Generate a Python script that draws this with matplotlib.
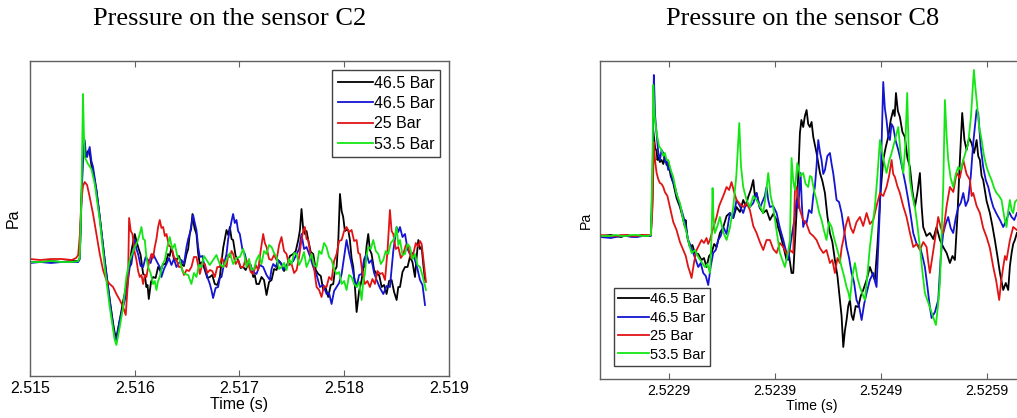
import matplotlib
matplotlib.use('Agg')
import matplotlib.pyplot as plt
import numpy as np

plt.rcParams['font.family'] = ['Liberation Sans', 'DejaVu Sans']

# ---------------- data ----------------
series_labels = ['46.5 Bar', '46.5 Bar', '25 Bar', '53.5 Bar']
series_colors = ['#000000', '#1414d2', '#e01414', '#14e614']

# Sensor C2 (time in ms after 2.515 s, pressure in arbitrary units)
c2_t0 = 2.515
c2_black_ms = [0, 0.1, 0.2, 0.3, 0.4, 0.46, 0.475, 0.49, 0.506, 0.522, 0.532, 0.554, 0.57, 0.586, 0.602, 0.634, 0.666, 0.713, 0.761, 0.793, 0.809, 0.825, 0.857, 0.889, 0.920, 0.936, 0.952, 0.968,
               1.0, 1.016, 1.032, 1.056, 1.08, 1.096, 1.111, 1.122, 1.134, 1.155, 1.175, 1.199, 1.223, 1.247, 1.271, 1.295, 1.318, 1.334, 1.350, 1.374, 1.398, 1.422, 1.446, 1.470, 1.494, 1.510, 1.525, 1.538, 1.551, 1.570, 1.589, 1.605, 1.621, 1.645, 1.669, 1.693, 1.717, 1.740, 1.764, 1.788, 1.812, 1.844, 1.876, 1.892, 1.908, 1.924, 1.939, 1.963, 1.987,
               2.011, 2.035, 2.059, 2.083, 2.107, 2.131, 2.146, 2.162, 2.186, 2.210, 2.234, 2.258, 2.282, 2.306, 2.330, 2.354, 2.378, 2.401, 2.425, 2.449, 2.481, 2.513, 2.537, 2.561, 2.577, 2.592, 2.608, 2.624, 2.640, 2.656, 2.680, 2.704, 2.728, 2.752, 2.776, 2.799, 2.823, 2.847, 2.871, 2.895, 2.911, 2.927, 2.943, 2.959, 2.975, 2.990,
               3.006, 3.022, 3.038, 3.054, 3.070, 3.086, 3.102, 3.118, 3.142, 3.166, 3.182, 3.197, 3.213, 3.229, 3.245, 3.261, 3.285, 3.309, 3.333, 3.357, 3.380, 3.404, 3.428, 3.452, 3.476, 3.500, 3.516, 3.532, 3.556, 3.580, 3.604, 3.627, 3.651, 3.675, 3.691, 3.707, 3.723, 3.739, 3.755, 3.771]
c2_black_pa = [-1, -1, 0, -1, 0, 0, 3, 60, 110, 118, 104, 110, 108, 96, 90, 71, 44, 1, -39, -62, -72, -76, -59, -40, -25, -12, -4, 10,
               27, 20, 14, 6, -13, -14, -26, -24, -38, -21, -16, -17, -6, -10, -3, -3, 7, 5, 14, 2, 1, 5, -3, -5, 7, 12, 27, 32, 47, 33, 27, 8, -3, -1, -9, -17, -16, -14, -23, -24, -16, 13, 31, 26, 34, 22, 21, 5, 1,
               -7, -6, -9, -3, -4, -16, -14, -23, -23, -16, -19, -34, -21, -19, -8, -9, 0, -3, -10, -6, 5, 7, 10, 21, 31, 52, 32, 27, 30, 21, 9, 7, -9, -13, -15, -29, -27, -36, -24, -23, -9, -6, 20, 67, 50, 44,
               30, 31, 31, 21, 3, -6, -26, -51, -30, -19, -6, -6, 15, 27, 11, 7, -9, -13, -14, -26, -24, -33, -20, -19, -31, -39, -26, -26, -11, -6, -6, 4, -1, -16, 4, 21, 12, 14, -4, -19]

c2_blue_ms = [0, 0.1, 0.2, 0.3, 0.4, 0.46, 0.475, 0.49, 0.506, 0.522, 0.532, 0.545, 0.57, 0.586, 0.602, 0.634, 0.666, 0.713, 0.761, 0.793, 0.809, 0.825, 0.857, 0.889, 0.920, 0.952, 0.968,
              1.0, 1.016, 1.032, 1.056, 1.080, 1.104, 1.127, 1.151, 1.175, 1.199, 1.223, 1.239, 1.255, 1.279, 1.303, 1.327, 1.350, 1.374, 1.398, 1.422, 1.446, 1.470, 1.494, 1.510, 1.525, 1.541, 1.557, 1.573, 1.589, 1.605, 1.621, 1.645, 1.669, 1.693, 1.717, 1.732, 1.748, 1.772, 1.796, 1.812, 1.828, 1.852, 1.876, 1.892, 1.908, 1.924, 1.939, 1.955, 1.971, 1.987,
              2.003, 2.027, 2.051, 2.075, 2.099, 2.131, 2.162, 2.194, 2.226, 2.258, 2.290, 2.306, 2.322, 2.346, 2.369, 2.393, 2.417, 2.449, 2.481, 2.513, 2.545, 2.569, 2.592, 2.616, 2.640, 2.672, 2.704, 2.736, 2.768, 2.799, 2.831, 2.855, 2.879, 2.903, 2.927, 2.951, 2.975, 2.999,
              3.022, 3.046, 3.070, 3.094, 3.118, 3.142, 3.166, 3.190, 3.213, 3.237, 3.261, 3.285, 3.309, 3.341, 3.373, 3.404, 3.436, 3.468, 3.500, 3.516, 3.532, 3.556, 3.580, 3.604, 3.627, 3.651, 3.675, 3.699, 3.723, 3.747, 3.771]
c2_blue_pa = [-2, -1, -2, -1, -1, -1, 2, 55, 105, 121, 108, 104, 114, 100, 94, 71, 44, 1, -39, -65, -76, -79, -59, -46, -33, -6, -3,
              21, 12, 7, -5, -6, 4, 1, -2, 7, 2, -3, -6, -16, -8, -3, 3, -4, 2, -6, -2, 1, -3, 14, 22, 27, 36, 46, 38, 31, 14, 4, 5, -6, -16, -23, -29, -37, -27, -26, -17, -16, -3, 7, 22, 31, 40, 47, 38, 41, 30,
              27, 12, 7, -4, -3, -11, -13, -4, -6, -14, -19, -8, -3, -6, 1, -2, -9, -4, -3, 0, 7, 12, 27, 12, 14, 5, -6, -14, -26, -24, -33, -32, -43, -30, -26, -22, -13, 4,
              21, 8, -3, -16, -26, -14, -13, 2, 7, -2, 1, -12, -19, -27, -33, -25, -26, 10, 34, 29, 34, 24, 27, 12, 7, 8, 1, -8, -19, -24, -44]

c2_red_ms = [0, 0.1, 0.2, 0.3, 0.4, 0.44, 0.46, 0.475, 0.49, 0.506, 0.522, 0.545, 0.570, 0.602, 0.634, 0.666, 0.697, 0.729, 0.761, 0.793, 0.825, 0.857, 0.889, 0.914, 0.936,
             0.946, 0.962, 0.978, 0.997, 1.016, 1.032, 1.048, 1.064, 1.080, 1.096, 1.111, 1.135, 1.159, 1.175, 1.191, 1.207, 1.223, 1.239, 1.255, 1.271, 1.287, 1.303, 1.327, 1.350, 1.374, 1.398, 1.422, 1.446, 1.470, 1.494, 1.518, 1.541, 1.565, 1.589, 1.605, 1.621, 1.645, 1.669, 1.693, 1.717, 1.740, 1.764, 1.788, 1.812, 1.828, 1.844, 1.860, 1.876, 1.892, 1.908, 1.924, 1.939, 1.963, 1.987,
             2.011, 2.035, 2.059, 2.083, 2.107, 2.131, 2.155, 2.178, 2.202, 2.226, 2.242, 2.258, 2.282, 2.306, 2.330, 2.354, 2.378, 2.401, 2.425, 2.449, 2.473, 2.497, 2.521, 2.545, 2.569, 2.592, 2.608, 2.624, 2.640, 2.656, 2.680, 2.704, 2.720, 2.736, 2.760, 2.783, 2.807, 2.831, 2.855, 2.879, 2.903, 2.927, 2.951, 2.975, 2.999,
             3.022, 3.046, 3.070, 3.094, 3.118, 3.134, 3.150, 3.174, 3.197, 3.221, 3.245, 3.269, 3.293, 3.317, 3.341, 3.365, 3.389, 3.413, 3.436, 3.452, 3.468, 3.492, 3.516, 3.540, 3.564, 3.588, 3.611, 3.635, 3.659, 3.683, 3.707, 3.723, 3.739, 3.760, 3.780]
c2_red_pa = [2, 1, 2, 2, 1, 3, 6, 25, 60, 75, 79, 76, 64, 47, 27, 7, -9, -19, -23, -26, -33, -39, -46, -54, -19,
             43, 30, 27, 10, 1, -10, -16, -14, -23, -14, -16, -2, 7, 3, 14, 22, 34, 41, 33, 34, 25, 27, 15, 14, 4, 1, -6, -6, -14, -9, -10, -6, 4, 4, -4, -13, -3, -3, -12, -9, -10, -16, -6, -6, 3, 1, -4, -6, 6, 4, 10, 7, -3, 1,
             -6, -6, 2, -3, -11, -13, -4, -9, 10, 27, 18, 14, 2, 1, 6, 1, 16, 24, 10, 7, -4, -3, -12, -9, 4, 21, 30, 34, 22, 21, 5, 1, -14, -26, -29, -36, -25, -26, -16, -19, 0, 7, 20, 21, 30,
             34, 29, 31, 20, 21, 8, 7, -12, -23, -20, -26, -18, -23, -10, -13, -12, -19, 10, 51, 30, 27, 12, 14, 3, 7, 16, 14, 3, 7, 18, 14, 20, 17, -2, -21]

c2_green_ms = [0, 0.1, 0.2, 0.3, 0.4, 0.46, 0.475, 0.49, 0.506, 0.514, 0.522, 0.554, 0.586, 0.618, 0.666, 0.713, 0.761, 0.809, 0.825, 0.857, 0.889, 0.920, 0.952,
               1.0, 1.024, 1.048, 1.064, 1.080, 1.096, 1.111, 1.127, 1.151, 1.175, 1.191, 1.207, 1.223, 1.239, 1.263, 1.287, 1.311, 1.334, 1.358, 1.382, 1.406, 1.430, 1.454, 1.478, 1.510, 1.541, 1.565, 1.589, 1.613, 1.637, 1.661, 1.685, 1.716, 1.748, 1.780, 1.812, 1.844, 1.876, 1.908, 1.939, 1.971,
               2.003, 2.035, 2.067, 2.091, 2.115, 2.138, 2.162, 2.186, 2.210, 2.234, 2.258, 2.282, 2.306, 2.330, 2.354, 2.378, 2.401, 2.425, 2.449, 2.473, 2.497, 2.521, 2.545, 2.569, 2.592, 2.616, 2.640, 2.664, 2.688, 2.712, 2.736, 2.760, 2.783, 2.807, 2.831, 2.855, 2.879, 2.903, 2.927, 2.951, 2.975, 2.999,
               3.022, 3.046, 3.070, 3.094, 3.118, 3.142, 3.166, 3.182, 3.197, 3.213, 3.229, 3.253, 3.277, 3.301, 3.325, 3.349, 3.373, 3.396, 3.420, 3.444, 3.468, 3.484, 3.500, 3.516, 3.532, 3.556, 3.580, 3.604, 3.627, 3.651, 3.675, 3.699, 3.723, 3.751, 3.780]
c2_green_pa = [-1, -1, 0, -1, -1, 0, 3, 60, 167, 130, 104, 97, 92, 77, 41, -6, -46, -79, -84, -66, -46, -16, 1,
               14, 19, 27, 34, 22, 21, 4, -6, -12, -23, -20, -29, -20, -16, -4, 1, 14, 24, 12, 17, 5, 1, -10, -13, -14, -23, -12, -16, -4, -6, 5, 1, -4, 1, 6, -3, -6, 1, 8, -3, 3,
               4, 12, -6, 2, -9, -8, 1, 6, -3, 10, 7, 16, 14, 8, 4, -8, -6, -2, -9, 2, -3, 8, 7, -4, 1, 9, -6, 0, 7, -4, -6, 10, 7, 18, 14, 4, 1, -8, -13, -11, -23, -20,
               -29, -14, -16, -23, -26, -21, -39, -20, -13, 6, 14, 12, 21, 10, 7, -3, 1, 10, 7, 18, 21, 25, 34, 16, 21, 6, 7, 17, 14, 2, 7, -4, -6, -16, -29]

# Sensor C8 (time in ms after 2.5229 s, pressure in arbitrary units)
c8_t0 = 2.5229
c8_black_ms = [-0.648, -0.55, -0.5, -0.45, -0.4, -0.35, -0.3, -0.25, -0.2, -0.17, -0.154, -0.148, -0.142, -0.130, -0.116, -0.108, -0.101, -0.085, -0.069, -0.053, -0.038, -0.022, -0.006, 0.017, 0.041, 0.072, 0.104, 0.127, 0.151, 0.157, 0.175, 0.198, 0.222, 0.245, 0.277, 0.308, 0.331, 0.355, 0.379, 0.403, 0.427, 0.450, 0.481, 0.513, 0.544, 0.575, 0.607, 0.638, 0.670, 0.701, 0.725, 0.748, 0.772, 0.796, 0.811, 0.827, 0.858, 0.890, 0.921, 0.953, 0.984,
               1.016, 1.032, 1.047, 1.079, 1.110, 1.134, 1.157, 1.173, 1.189, 1.204, 1.220, 1.236, 1.250, 1.267, 1.283, 1.299, 1.314, 1.330, 1.346, 1.362, 1.393, 1.425, 1.448, 1.472, 1.495, 1.519, 1.542, 1.566, 1.590, 1.613, 1.629, 1.645, 1.660, 1.676, 1.692, 1.708, 1.723, 1.739, 1.762, 1.786, 1.810, 1.833, 1.865, 1.896, 1.920, 1.943, 1.967, 1.991,
               2.006, 2.022, 2.046, 2.069, 2.093, 2.116, 2.130, 2.142, 2.160, 2.179, 2.203, 2.226, 2.250, 2.274, 2.297, 2.321, 2.345, 2.368, 2.384, 2.399, 2.430, 2.462, 2.494, 2.525, 2.557, 2.588, 2.620, 2.651, 2.675, 2.698, 2.722, 2.745, 2.767, 2.788, 2.808, 2.832, 2.855, 2.879, 2.903, 2.918, 2.934, 2.950, 2.965, 2.997,
               3.028, 3.052, 3.075, 3.099, 3.123, 3.138, 3.154, 3.178, 3.201, 3.217, 3.233, 3.248, 3.264, 3.283]
c8_black_pa = [0, 1, 0, -1, 1, 0, 0, 1, 0, 1, 40, 106, 100, 88, 85, 76, 79, 74, 76, 72, 80, 71, 74, 60, 53, 38, 29, 20, 9, 16, -2, -11, -9, -17, -18, -24, -22, -31, -20, -17, -8, -11, 3, 9, 20, 23, 18, 29, 24, 36, 30, 39, 46, 56, 40, 43, 28, 23, 26, 16, 22,
               16, 8, 3, -10, -24, -20, -37, -37, -5, 23, 60, 103, 116, 109, 120, 126, 112, 109, 114, 99, 83, 63, 55, 43, 20, 3, -6, -24, -40, -64, -80, -111, -95, -84, -70, -64, -79, -84, -70, -71, -60, -54, -44, -31, -38, -44, -10, 36,
               56, 76, 89, 99, 116, 126, 120, 143, 125, 119, 104, 99, 78, 69, 45, 29, 44, 63, 30, 9, 0, 3, -3, 9, -4, -11, -17, -27, -20, -24, 20, 76, 123, 96, 86, 98, 93, 83, 96, 80, 76, 60, 56, 35,
               23, 10, -4, -20, -37, -45, -54, -47, -54, -30, -17, -8, -4, 3]

c8_blue_ms = [-0.648, -0.55, -0.5, -0.45, -0.4, -0.35, -0.3, -0.25, -0.2, -0.17, -0.154, -0.142, -0.130, -0.116, -0.101, -0.085, -0.069, -0.053, -0.038, -0.022, -0.006, 0.009, 0.033, 0.057, 0.088, 0.119, 0.151, 0.182, 0.206, 0.230, 0.254, 0.277, 0.300, 0.324, 0.348, 0.371, 0.395, 0.418, 0.442, 0.465, 0.489, 0.513, 0.544, 0.575, 0.607, 0.638, 0.670, 0.701, 0.733, 0.764, 0.796, 0.827, 0.858, 0.890, 0.905, 0.921, 0.937, 0.953, 0.984,
              1.016, 1.047, 1.079, 1.102, 1.126, 1.150, 1.173, 1.189, 1.204, 1.220, 1.242, 1.255, 1.267, 1.283, 1.299, 1.322, 1.346, 1.362, 1.377, 1.393, 1.409, 1.425, 1.440, 1.456, 1.472, 1.495, 1.519, 1.535, 1.550, 1.566, 1.582, 1.605, 1.629, 1.652, 1.676, 1.700, 1.723, 1.746, 1.770, 1.794, 1.818, 1.842, 1.865, 1.896, 1.928, 1.943, 1.959, 1.975, 1.991,
              2.006, 2.022, 2.037, 2.053, 2.069, 2.085, 2.100, 2.116, 2.140, 2.164, 2.188, 2.211, 2.235, 2.258, 2.282, 2.305, 2.337, 2.368, 2.392, 2.415, 2.438, 2.462, 2.478, 2.510, 2.541, 2.565, 2.588, 2.611, 2.635, 2.658, 2.682, 2.706, 2.730, 2.753, 2.777, 2.800, 2.824, 2.848, 2.871, 2.887, 2.903, 2.918, 2.941, 2.965, 2.989,
              3.013, 3.036, 3.060, 3.092, 3.123, 3.154, 3.185, 3.209, 3.233, 3.258, 3.283]
c8_blue_pa = [-1, -2, -1, 0, 0, -1, -1, 0, 0, 0, 60, 161, 120, 103, 84, 76, 86, 83, 74, 75, 66, 69, 56, 49, 36, 26, 14, -4, -10, -17, -24, -31, -27, -37, -40, -49, -30, -17, -14, -4, 0, 9, 2, 23, 18, 36, 30, 23, 34, 29, 33, 43, 28, 36, 40, 49, 36, 29, 30,
              23, 8, -4, -14, -24, -6, 9, 20, 36, 28, 63, 30, 9, 15, 13, 26, 23, 40, 49, 70, 96, 84, 76, 62, 66, 80, 83, 72, 63, 50, 36, 34, 23, 6, -11, -22, -37, -46, -64, -70, -84, -68, -57, -44, -37, -45, -51, -10, 29,
              90, 154, 128, 116, 100, 96, 112, 109, 95, 86, 75, 63, 50, 36, 20, 3, -8, -11, -20, -31, -50, -71, -82, -76, -64, -20, 3, 12, 19, 8, 3, 18, 29, 33, 43, 30, 36, 60, 93, 110, 126, 123, 90, 69, 56,
              49, 38, 29, 22, 16, 9, 16, 24, 19, 16, 23]

c8_red_ms = [-0.648, -0.55, -0.5, -0.45, -0.4, -0.35, -0.3, -0.25, -0.2, -0.17, -0.154, -0.142, -0.130, -0.116, -0.101, -0.085, -0.069, -0.053, -0.038, -0.014, 0.009, 0.041, 0.072, 0.104, 0.135, 0.159, 0.182, 0.198, 0.214, 0.238, 0.261, 0.285, 0.308, 0.331, 0.355, 0.371, 0.387, 0.418, 0.450, 0.474, 0.497, 0.520, 0.544, 0.568, 0.591, 0.615, 0.638, 0.670, 0.701, 0.733, 0.764, 0.796, 0.827, 0.858, 0.890, 0.921, 0.953, 0.984,
             1.016, 1.047, 1.079, 1.110, 1.142, 1.173, 1.189, 1.204, 1.236, 1.267, 1.299, 1.330, 1.362, 1.393, 1.425, 1.456, 1.487, 1.519, 1.542, 1.566, 1.590, 1.613, 1.629, 1.645, 1.668, 1.692, 1.716, 1.739, 1.770, 1.802, 1.833, 1.865, 1.896, 1.928, 1.959, 1.991,
             2.022, 2.053, 2.077, 2.101, 2.116, 2.132, 2.155, 2.179, 2.210, 2.242, 2.274, 2.305, 2.337, 2.368, 2.400, 2.431, 2.447, 2.462, 2.501, 2.541, 2.565, 2.588, 2.620, 2.651, 2.683, 2.714, 2.745, 2.777, 2.808, 2.840, 2.856, 2.871, 2.903, 2.934, 2.965, 2.997,
             3.028, 3.060, 3.088, 3.116, 3.135, 3.154, 3.170, 3.185, 3.217, 3.248, 3.283]
c8_red_pa = [1, 0, 0, 1, 1, 0, 0, 1, 1, 1, 30, 94, 75, 63, 57, 53, 52, 49, 44, 40, 29, 14, 6, -6, -14, -20, -31, -36, -42, -26, -14, -9, -4, -7, -2, -8, -4, 8, 19, 30, 36, 42, 49, 46, 54, 44, 36, 32, 29, 33, 26, 10, 3, -6, -14, -4, -4, -13,
             -17, -7, -11, -18, -14, -17, 46, 49, 26, 16, 12, 3, 0, -4, -12, -17, -14, -27, -24, -37, -22, -27, -12, -4, 10, 19, 8, 3, 14, 19, 10, 23, 12, 16, 30, 43,
             40, 49, 60, 76, 62, 59, 50, 43, 30, 19, 3, -11, -8, -14, -6, -11, -26, -37, -10, 19, 8, 3, 30, 49, 44, 63, 58, 76, 62, 56, 40, 43, 30, 23, 8, -1,
             -12, -31, -45, -64, -45, -31, -20, -24, -4, 9, 6]

c8_green_ms = [-0.648, -0.55, -0.5, -0.45, -0.4, -0.35, -0.3, -0.25, -0.2, -0.17, -0.154, -0.148, -0.135, -0.116, -0.093, -0.069, -0.053, -0.038, -0.022, -0.006, 0.017, 0.041, 0.072, 0.104, 0.135, 0.167, 0.190, 0.214, 0.245, 0.277, 0.308, 0.340, 0.363, 0.387, 0.403, 0.412, 0.420, 0.434, 0.458, 0.481, 0.512, 0.544, 0.575, 0.607, 0.636, 0.664, 0.680, 0.701, 0.733, 0.764, 0.796, 0.827, 0.858, 0.890, 0.913, 0.937, 0.960, 0.984,
               1.016, 1.047, 1.070, 1.094, 1.118, 1.142, 1.157, 1.173, 1.189, 1.211, 1.240, 1.267, 1.290, 1.314, 1.330, 1.346, 1.370, 1.393, 1.416, 1.440, 1.464, 1.487, 1.511, 1.535, 1.558, 1.582, 1.605, 1.629, 1.652, 1.676, 1.692, 1.708, 1.731, 1.755, 1.779, 1.802, 1.826, 1.849, 1.872, 1.896, 1.920, 1.943, 1.967, 1.991,
               2.022, 2.053, 2.077, 2.101, 2.132, 2.164, 2.188, 2.211, 2.230, 2.248, 2.261, 2.274, 2.297, 2.321, 2.345, 2.368, 2.392, 2.415, 2.438, 2.462, 2.490, 2.519, 2.538, 2.557, 2.572, 2.588, 2.604, 2.620, 2.635, 2.658, 2.682, 2.706, 2.730, 2.753, 2.777, 2.800, 2.824, 2.850, 2.877, 2.890, 2.903, 2.926, 2.950, 2.973, 2.997,
               3.020, 3.044, 3.068, 3.091, 3.115, 3.138, 3.162, 3.185, 3.201, 3.217, 3.233, 3.248, 3.265, 3.283]
c8_green_pa = [0, 0, 1, 0, 0, 1, 1, 0, 0, 1, 80, 151, 120, 103, 90, 86, 80, 83, 76, 76, 66, 59, 42, 33, 16, 3, -8, -17, -14, -21, -26, -31, -28, -37, 0, 48, 20, 3, 10, 19, 4, -4, 8, 29, 60, 113, 70, 49, 36, 29, 40, 36, 30, 23, 40, 63, 40, 29,
               5, -17, -24, -31, -20, -4, 78, 55, 46, 73, 60, 63, 52, 49, 60, 59, 45, 36, 24, 16, 5, -4, 14, 9, -2, -11, -20, -31, -40, -51, -56, -64, -40, -27, -42, -51, -58, -64, -40, -11, 10, 29, 60, 96,
               78, 63, 75, 83, 96, 109, 80, 63, 90, 143, 90, 56, 40, 29, 10, -11, -36, -57, -64, -71, -80, -89, -70, -47, 0, 49, 136, 100, 76, 58, 49, 62, 69, 66, 76, 84, 93, 120, 166, 150, 136, 110, 96, 80, 69,
               62, 56, 48, 43, 40, 36, 20, 9, 25, 36, 26, 23, 34, 36]

c2_ticks = [2.515, 2.516, 2.517, 2.518, 2.519]
c2_ticklabels = ['2.515', '2.516', '2.517', '2.518', '2.519']
c8_ticks = [2.5229, 2.5239, 2.5249, 2.5259]
c8_ticklabels = ['2.5229', '2.5239', '2.5249', '2.5259']

# ---------------- figure ----------------
W, H = 1017, 418
fig = plt.figure(figsize=(W / 100, H / 100), dpi=100)
fig.patch.set_facecolor('white')

ax1 = fig.add_axes([30 / W, 42 / H, 419 / W, 315 / H])
ax2 = fig.add_axes([600 / W, 39 / H, 424 / W, 318 / H])

c2_data = [(c2_black_ms, c2_black_pa), (c2_blue_ms, c2_blue_pa),
           (c2_red_ms, c2_red_pa), (c2_green_ms, c2_green_pa)]
c8_data = [(c8_black_ms, c8_black_pa), (c8_blue_ms, c8_blue_pa),
           (c8_red_ms, c8_red_pa), (c8_green_ms, c8_green_pa)]

for (ms, pa), col, lab in zip(c2_data, series_colors, series_labels):
    ax1.plot(c2_t0 + np.asarray(ms) * 1e-3, pa, color=col, lw=1.3, label=lab)
for (ms, pa), col, lab in zip(c8_data, series_colors, series_labels):
    ax2.plot(c8_t0 + np.asarray(ms) * 1e-3, pa, color=col, lw=1.3, label=lab)

ax1.set_xlim(2.515, 2.519)
ax1.set_ylim(-115, 200)
ax2.set_xlim(2.52225, 2.52625)
ax2.set_ylim(-143, 175)

for ax, ticks, tl, fs, lp in [(ax1, c2_ticks, c2_ticklabels, 11.5, 6.5),
                              (ax2, c8_ticks, c8_ticklabels, 10.2, 5.0)]:
    ax.set_xticks(ticks)
    ax.set_xticklabels(tl, fontsize=fs)
    ax.set_yticks([])
    ax.tick_params(axis='x', direction='in', top=True, bottom=True,
                   length=4, width=0.8, color='#606060', pad=3.5)
    for sp in ax.spines.values():
        sp.set_color('#606060')
        sp.set_linewidth(1.0)
    ax.set_xlabel('Time (s)', fontsize=fs, labelpad=1)
    ax.set_ylabel('Pa', fontsize=fs, labelpad=lp)

leg1 = ax1.legend(loc='upper right', bbox_to_anchor=(0.9785, 0.9714),
                  borderaxespad=0, fontsize=11.5, handlelength=2.2,
                  handletextpad=0.05, labelspacing=0.34, borderpad=0.35,
                  fancybox=False, framealpha=1, edgecolor='#404040')
leg1.get_frame().set_linewidth(1.0)
leg2 = ax2.legend(loc='lower left', bbox_to_anchor=(0.033, 0.041),
                  borderaxespad=0, fontsize=10.5, handlelength=2.1,
                  handletextpad=0.1, labelspacing=0.3, borderpad=0.3,
                  fancybox=False, framealpha=1, edgecolor='#404040')
leg2.get_frame().set_linewidth(1.0)

fig.text(230 / W, 1 - 19 / H, 'Pressure on the sensor C2', ha='center',
         va='center', fontsize=19, family=['Liberation Serif', 'DejaVu Serif'])
fig.text(803 / W, 1 - 19 / H, 'Pressure on the sensor C8', ha='center',
         va='center', fontsize=19, family=['Liberation Serif', 'DejaVu Serif'])

fig.savefig('out.png', dpi=100)
